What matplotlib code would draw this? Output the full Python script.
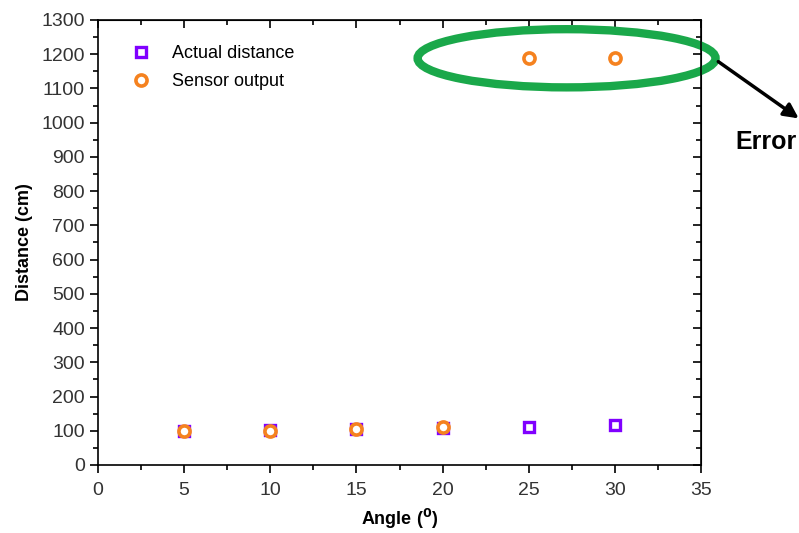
import matplotlib.pyplot as plt
from matplotlib.patches import Ellipse
from matplotlib.ticker import MultipleLocator

plt.rcParams['font.family'] = ['Liberation Sans', 'DejaVu Sans']

angle = [5, 10, 15, 20, 25, 30]
actual = [100, 102, 104, 107, 111, 117]
sensor = [100, 98, 104, 110, 1190, 1190]

fig = plt.figure(figsize=(7.99, 5.33), dpi=100)
ax = fig.add_axes([0.1227, 0.1276, 0.7546, 0.835])

ax.plot(angle, actual, 's', ms=7, mfc='white', mec='#8000ff', mew=2.4,
        ls='none', label='Actual distance')
ax.plot(angle, sensor, 'o', ms=8, mfc='white', mec='#f5821f', mew=2.6,
        ls='none', label='Sensor output')

ax.set_xlim(0, 35)
ax.set_ylim(0, 1300)
ax.xaxis.set_major_locator(MultipleLocator(5))
ax.xaxis.set_minor_locator(MultipleLocator(2.5))
ax.yaxis.set_major_locator(MultipleLocator(100))
ax.yaxis.set_minor_locator(MultipleLocator(50))
ax.tick_params(which='both', direction='out', top=False, right=False,
               labelsize=14, labelcolor='#333333', width=1.2)
ax.tick_params(which='major', length=6)
ax.tick_params(which='minor', length=3.5)
ax.tick_params(axis='x', pad=6)
# inward ticks on top and right, Origin style
sec_x = ax.secondary_xaxis('top')
sec_x.xaxis.set_major_locator(MultipleLocator(5))
sec_x.xaxis.set_minor_locator(MultipleLocator(2.5))
sec_x.tick_params(which='both', direction='in', labeltop=False, width=1.2)
sec_x.tick_params(which='major', length=6)
sec_x.tick_params(which='minor', length=3.5)
sec_y = ax.secondary_yaxis('right')
sec_y.yaxis.set_major_locator(MultipleLocator(100))
sec_y.yaxis.set_minor_locator(MultipleLocator(50))
sec_y.tick_params(which='both', direction='in', labelright=False, width=1.2)
sec_y.tick_params(which='major', length=6)
sec_y.tick_params(which='minor', length=3.5)
for s in ax.spines.values():
    s.set_linewidth(1.2)

ax.set_xlabel('Angle ($\\mathbf{^{0}}$)', fontsize=13, fontweight='bold', labelpad=6)
ax.set_ylabel('Distance (cm)', fontsize=13, fontweight='bold', labelpad=6)

ax.legend(loc='upper left', frameon=False, fontsize=13,
          bbox_to_anchor=(0.03, 0.98), handlelength=1, handletextpad=1.2,
          labelspacing=0.6)

# error highlight
ell = Ellipse((27.2, 1188), 17.3, 170, fill=False, ec='#1aa84a', lw=6, clip_on=False)
ax.add_patch(ell)
ax.annotate('', xy=(801 / 799, 1 - 120 / 533), xycoords='figure fraction',
            xytext=(716 / 799, 1 - 60 / 533), textcoords='figure fraction',
            arrowprops=dict(arrowstyle='-|>', color='black', lw=2.5, mutation_scale=22))
fig.text(735 / 799, 1 - 142 / 533, 'Error', fontsize=18, fontweight='bold', va='center')

fig.savefig('out.png', dpi=100)
